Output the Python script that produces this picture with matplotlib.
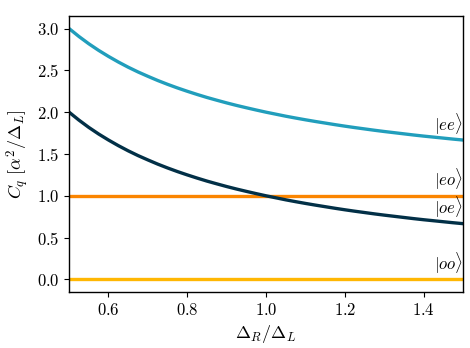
import matplotlib
matplotlib.use("Agg")
import matplotlib.pyplot as plt

plt.rcParams["font.family"] = "serif"
plt.rcParams["font.serif"] = ["cmr10"]
plt.rcParams["mathtext.fontset"] = "cm"
plt.rcParams["axes.formatter.use_mathtext"] = True
plt.rcParams["font.size"] = 12
plt.rcParams["axes.linewidth"] = 1.0

# ===== data =====
ratio = [0.500, 0.525, 0.550, 0.575, 0.600, 0.625, 0.650, 0.675, 0.700, 0.725,
         0.750, 0.775, 0.800, 0.825, 0.850, 0.875, 0.900, 0.925, 0.950, 0.975,
         1.000, 1.025, 1.050, 1.075, 1.100, 1.125, 1.150, 1.175, 1.200, 1.225,
         1.250, 1.275, 1.300, 1.325, 1.350, 1.375, 1.400, 1.425, 1.450, 1.475,
         1.500]
c_ee = [3.000, 2.905, 2.818, 2.739, 2.667, 2.600, 2.538, 2.481, 2.429, 2.379,
        2.333, 2.290, 2.250, 2.212, 2.176, 2.143, 2.111, 2.081, 2.053, 2.026,
        2.000, 1.976, 1.952, 1.930, 1.909, 1.889, 1.870, 1.851, 1.833, 1.816,
        1.800, 1.784, 1.769, 1.755, 1.741, 1.727, 1.714, 1.702, 1.690, 1.678,
        1.667]
c_oe = [2.000, 1.905, 1.818, 1.739, 1.667, 1.600, 1.538, 1.481, 1.429, 1.379,
        1.333, 1.290, 1.250, 1.212, 1.176, 1.143, 1.111, 1.081, 1.053, 1.026,
        1.000, 0.976, 0.952, 0.930, 0.909, 0.889, 0.870, 0.851, 0.833, 0.816,
        0.800, 0.784, 0.769, 0.755, 0.741, 0.727, 0.714, 0.702, 0.690, 0.678,
        0.667]
c_eo = [1.0] * len(ratio)
c_oo = [0.0] * len(ratio)

series = [
    (c_ee, r"$|ee\rangle$", "#219ebc"),
    (c_eo, r"$|eo\rangle$", "#fb8500"),
    (c_oe, r"$|oe\rangle$", "#023047"),
    (c_oo, r"$|oo\rangle$", "#ffb703"),
]

fig = plt.figure(figsize=(4.7, 3.48), dpi=100)
ax = fig.add_axes([0.147, 0.161, 0.838, 0.793])

for vals, lab, col in series:
    ax.plot(ratio, vals, color=col, linewidth=2.4)
    ax.text(1.499, vals[-1] + 0.04, lab, ha="right", va="bottom", fontsize=12)

ax.set_xlim(0.5, 1.5)
ax.set_xticks([0.6, 0.8, 1.0, 1.2, 1.4])
ax.set_yticks([0.0, 0.5, 1.0, 1.5, 2.0, 2.5, 3.0])
ax.set_xlabel(r"$\Delta_R/\Delta_L$", fontsize=13)
ax.set_ylabel(r"$C_q\ [\alpha^2/\Delta_L]$", fontsize=13)

fig.savefig("out.png", dpi=100)
